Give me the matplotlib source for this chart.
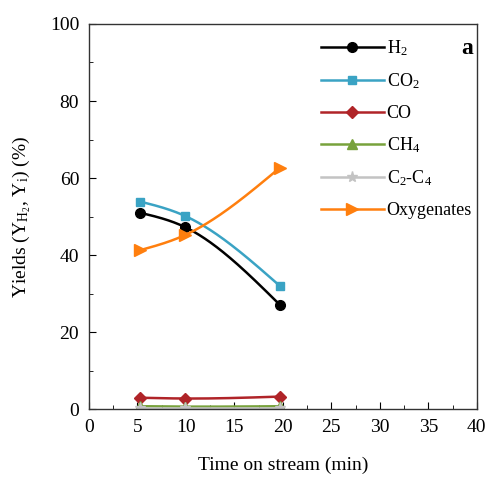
import numpy as np
import matplotlib
matplotlib.use('Agg')
import matplotlib.pyplot as plt
from matplotlib.ticker import MultipleLocator

# data
time_min = [5.3, 9.9, 19.7]
h2 = [51.0, 47.3, 27.1]
co2 = [53.9, 50.2, 32.0]
co = [3.0, 2.8, 3.3]
ch4 = [0.8, 0.7, 0.8]
c2c4 = [0.3, 0.3, 0.3]
oxygenates = [41.3, 45.2, 62.7]

series = [
    (r'H$_2$', h2, 'black', 'o', 7),
    (r'CO$_2$', co2, '#3aa3c4', 's', 6),
    ('CO', co, '#b02428', 'D', 6),
    (r'CH$_4$', ch4, '#78a23c', '^', 7),
    (r'C$_2$-C$_4$', c2c4, '#c3c3c3', '*', 8),
    ('Oxygenates', oxygenates, '#ff7f0e', '>', 8),
]


def natural_spline(x, y, xs):
    # natural cubic spline through the three points (Origin-style smoothing)
    x = np.asarray(x, float)
    y = np.asarray(y, float)
    h = np.diff(x)
    m1 = 6 * ((y[2] - y[1]) / h[1] - (y[1] - y[0]) / h[0]) / (2 * (h[0] + h[1]))
    M = [0.0, m1, 0.0]
    out = np.empty_like(xs)
    for k, xv in enumerate(xs):
        i = 0 if xv <= x[1] else 1
        a, b = x[i], x[i + 1]
        hi = b - a
        out[k] = (M[i] * (b - xv) ** 3 / (6 * hi) + M[i + 1] * (xv - a) ** 3 / (6 * hi)
                  + (y[i] / hi - M[i] * hi / 6) * (b - xv)
                  + (y[i + 1] / hi - M[i + 1] * hi / 6) * (xv - a))
    return out


plt.rcParams['font.family'] = ['Liberation Serif', 'DejaVu Serif']
plt.rcParams['mathtext.fontset'] = 'custom'
plt.rcParams['mathtext.rm'] = 'Liberation Serif'
plt.rcParams['mathtext.it'] = 'Liberation Serif:italic'
plt.rcParams['mathtext.default'] = 'rm'

fig = plt.figure(figsize=(4.91, 4.79), dpi=100)
ax = fig.add_axes([0.181, 0.1455, 0.79, 0.8045])

xs = np.linspace(min(time_min), max(time_min), 200)
for label, y, color, marker, ms in series:
    ax.plot(xs, natural_spline(time_min, y, xs), color=color, lw=1.8)
    ax.plot(time_min, y, linestyle='none', marker=marker, color=color, ms=ms)
    ax.plot([], [], color=color, lw=1.8, marker=marker, ms=ms, label=label)

ax.set_xlim(0, 40)
ax.set_ylim(0, 100)
ax.xaxis.set_major_locator(MultipleLocator(5))
ax.xaxis.set_minor_locator(MultipleLocator(2.5))
ax.yaxis.set_major_locator(MultipleLocator(20))
ax.yaxis.set_minor_locator(MultipleLocator(10))
ax.tick_params(which='both', direction='in', labelsize=14, top=False, right=False)
ax.tick_params(which='major', length=5, pad=7)
ax.tick_params(which='minor', length=3)
for s in ax.spines.values():
    s.set_linewidth(1.0)
    s.set_color('#333333')

ax.set_xlabel('Time on stream (min)', fontsize=14, labelpad=15)
ax.set_ylabel(r'Yields (Y$_{\mathrm{H}_2}$, Y$_i$) (%)', fontsize=14, labelpad=12)

ax.text(0.99, 0.935, 'a', transform=ax.transAxes, fontsize=17,
        fontweight='bold', ha='right', va='center')

handles, labels = ax.get_legend_handles_labels()
ax.legend(handles, labels, loc='upper left', bbox_to_anchor=(0.565, 0.995),
          frameon=False, fontsize=13, handlelength=3.5, labelspacing=0.75,
          handletextpad=0.15, borderaxespad=0.3)

plt.savefig('out.png', dpi=100)
plt.close()
